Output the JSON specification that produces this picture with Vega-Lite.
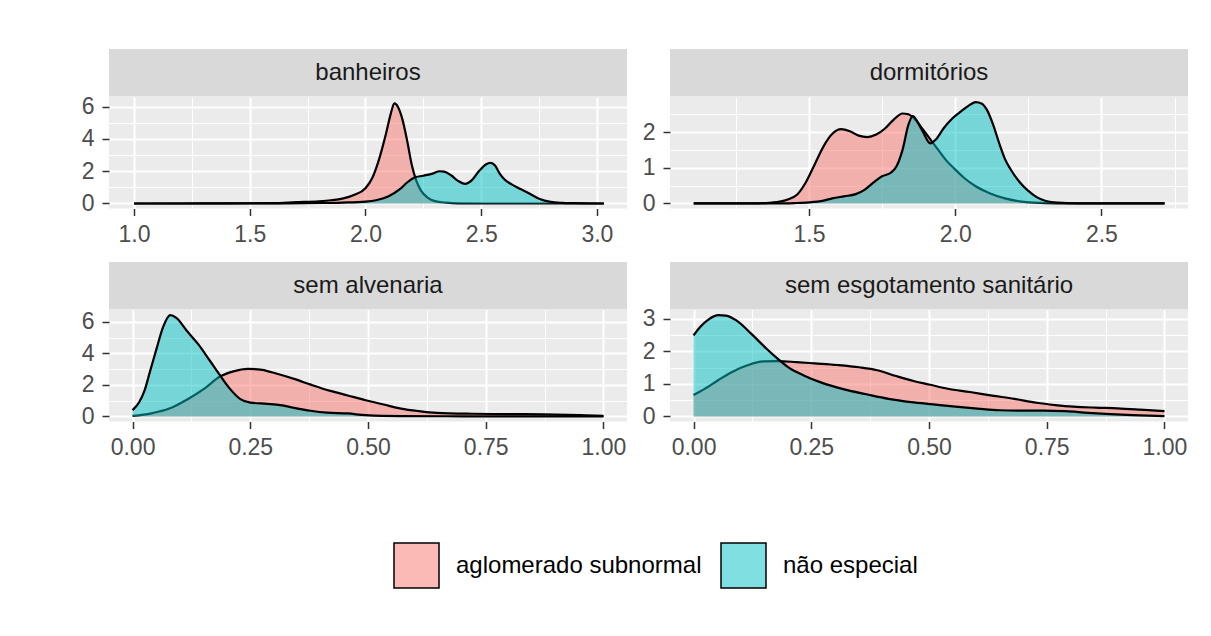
{
 "$schema": "https://vega.github.io/schema/vega-lite/v6.json",
 "padding": {"left": 81, "top": 49, "right": 5, "bottom": 5},
 "background": "white",
 "datasets": {"d": [
  {"v":"banheiros","g":"aglomerado subnormal","x":1.0,"y":0},
  {"v":"banheiros","g":"aglomerado subnormal","x":1.2,"y":0},
  {"v":"banheiros","g":"aglomerado subnormal","x":1.4,"y":0.01},
  {"v":"banheiros","g":"aglomerado subnormal","x":1.6,"y":0.02},
  {"v":"banheiros","g":"aglomerado subnormal","x":1.7,"y":0.08},
  {"v":"banheiros","g":"aglomerado subnormal","x":1.8,"y":0.14},
  {"v":"banheiros","g":"aglomerado subnormal","x":1.85,"y":0.2},
  {"v":"banheiros","g":"aglomerado subnormal","x":1.9,"y":0.3},
  {"v":"banheiros","g":"aglomerado subnormal","x":1.95,"y":0.52},
  {"v":"banheiros","g":"aglomerado subnormal","x":2.0,"y":0.95},
  {"v":"banheiros","g":"aglomerado subnormal","x":2.03,"y":1.6},
  {"v":"banheiros","g":"aglomerado subnormal","x":2.06,"y":2.8},
  {"v":"banheiros","g":"aglomerado subnormal","x":2.09,"y":4.4},
  {"v":"banheiros","g":"aglomerado subnormal","x":2.11,"y":5.6},
  {"v":"banheiros","g":"aglomerado subnormal","x":2.125,"y":6.2},
  {"v":"banheiros","g":"aglomerado subnormal","x":2.14,"y":6.0},
  {"v":"banheiros","g":"aglomerado subnormal","x":2.16,"y":5.2},
  {"v":"banheiros","g":"aglomerado subnormal","x":2.18,"y":3.9},
  {"v":"banheiros","g":"aglomerado subnormal","x":2.2,"y":2.4},
  {"v":"banheiros","g":"aglomerado subnormal","x":2.22,"y":1.4},
  {"v":"banheiros","g":"aglomerado subnormal","x":2.24,"y":0.8},
  {"v":"banheiros","g":"aglomerado subnormal","x":2.27,"y":0.35},
  {"v":"banheiros","g":"aglomerado subnormal","x":2.3,"y":0.15},
  {"v":"banheiros","g":"aglomerado subnormal","x":2.35,"y":0.05},
  {"v":"banheiros","g":"aglomerado subnormal","x":2.4,"y":0.01},
  {"v":"banheiros","g":"aglomerado subnormal","x":2.5,"y":0},
  {"v":"banheiros","g":"aglomerado subnormal","x":3.03,"y":0},
  {"v":"banheiros","g":"não especial","x":1.0,"y":0},
  {"v":"banheiros","g":"não especial","x":1.6,"y":0.01},
  {"v":"banheiros","g":"não especial","x":1.8,"y":0.03},
  {"v":"banheiros","g":"não especial","x":1.9,"y":0.06},
  {"v":"banheiros","g":"não especial","x":2.0,"y":0.12},
  {"v":"banheiros","g":"não especial","x":2.05,"y":0.22},
  {"v":"banheiros","g":"não especial","x":2.1,"y":0.45},
  {"v":"banheiros","g":"não especial","x":2.15,"y":0.9},
  {"v":"banheiros","g":"não especial","x":2.18,"y":1.3},
  {"v":"banheiros","g":"não especial","x":2.21,"y":1.6},
  {"v":"banheiros","g":"não especial","x":2.25,"y":1.72},
  {"v":"banheiros","g":"não especial","x":2.29,"y":1.85},
  {"v":"banheiros","g":"não especial","x":2.32,"y":2.0},
  {"v":"banheiros","g":"não especial","x":2.34,"y":1.98},
  {"v":"banheiros","g":"não especial","x":2.37,"y":1.75},
  {"v":"banheiros","g":"não especial","x":2.4,"y":1.4},
  {"v":"banheiros","g":"não especial","x":2.43,"y":1.22},
  {"v":"banheiros","g":"não especial","x":2.46,"y":1.45},
  {"v":"banheiros","g":"não especial","x":2.49,"y":2.0},
  {"v":"banheiros","g":"não especial","x":2.52,"y":2.42},
  {"v":"banheiros","g":"não especial","x":2.54,"y":2.52},
  {"v":"banheiros","g":"não especial","x":2.56,"y":2.35},
  {"v":"banheiros","g":"não especial","x":2.58,"y":1.85},
  {"v":"banheiros","g":"não especial","x":2.6,"y":1.5},
  {"v":"banheiros","g":"não especial","x":2.63,"y":1.2},
  {"v":"banheiros","g":"não especial","x":2.67,"y":0.9},
  {"v":"banheiros","g":"não especial","x":2.71,"y":0.6},
  {"v":"banheiros","g":"não especial","x":2.75,"y":0.3},
  {"v":"banheiros","g":"não especial","x":2.8,"y":0.1},
  {"v":"banheiros","g":"não especial","x":2.85,"y":0.04},
  {"v":"banheiros","g":"não especial","x":2.9,"y":0.02},
  {"v":"banheiros","g":"não especial","x":3.03,"y":0},

  {"v":"dormitórios","g":"aglomerado subnormal","x":1.106,"y":0},
  {"v":"dormitórios","g":"aglomerado subnormal","x":1.3,"y":0},
  {"v":"dormitórios","g":"aglomerado subnormal","x":1.35,"y":0.01},
  {"v":"dormitórios","g":"aglomerado subnormal","x":1.4,"y":0.05},
  {"v":"dormitórios","g":"aglomerado subnormal","x":1.43,"y":0.12},
  {"v":"dormitórios","g":"aglomerado subnormal","x":1.46,"y":0.25},
  {"v":"dormitórios","g":"aglomerado subnormal","x":1.49,"y":0.6},
  {"v":"dormitórios","g":"aglomerado subnormal","x":1.52,"y":1.1},
  {"v":"dormitórios","g":"aglomerado subnormal","x":1.55,"y":1.6},
  {"v":"dormitórios","g":"aglomerado subnormal","x":1.58,"y":1.95},
  {"v":"dormitórios","g":"aglomerado subnormal","x":1.61,"y":2.08},
  {"v":"dormitórios","g":"aglomerado subnormal","x":1.64,"y":2.02},
  {"v":"dormitórios","g":"aglomerado subnormal","x":1.67,"y":1.9},
  {"v":"dormitórios","g":"aglomerado subnormal","x":1.7,"y":1.86},
  {"v":"dormitórios","g":"aglomerado subnormal","x":1.73,"y":1.93},
  {"v":"dormitórios","g":"aglomerado subnormal","x":1.76,"y":2.1},
  {"v":"dormitórios","g":"aglomerado subnormal","x":1.79,"y":2.35},
  {"v":"dormitórios","g":"aglomerado subnormal","x":1.82,"y":2.52},
  {"v":"dormitórios","g":"aglomerado subnormal","x":1.84,"y":2.5},
  {"v":"dormitórios","g":"aglomerado subnormal","x":1.86,"y":2.38},
  {"v":"dormitórios","g":"aglomerado subnormal","x":1.88,"y":2.18},
  {"v":"dormitórios","g":"aglomerado subnormal","x":1.91,"y":1.85},
  {"v":"dormitórios","g":"aglomerado subnormal","x":1.94,"y":1.52},
  {"v":"dormitórios","g":"aglomerado subnormal","x":1.97,"y":1.2},
  {"v":"dormitórios","g":"aglomerado subnormal","x":2.0,"y":0.95},
  {"v":"dormitórios","g":"aglomerado subnormal","x":2.03,"y":0.72},
  {"v":"dormitórios","g":"aglomerado subnormal","x":2.07,"y":0.48},
  {"v":"dormitórios","g":"aglomerado subnormal","x":2.12,"y":0.28},
  {"v":"dormitórios","g":"aglomerado subnormal","x":2.17,"y":0.14},
  {"v":"dormitórios","g":"aglomerado subnormal","x":2.22,"y":0.06},
  {"v":"dormitórios","g":"aglomerado subnormal","x":2.27,"y":0.02},
  {"v":"dormitórios","g":"aglomerado subnormal","x":2.35,"y":0},
  {"v":"dormitórios","g":"aglomerado subnormal","x":2.716,"y":0},
  {"v":"dormitórios","g":"não especial","x":1.106,"y":0},
  {"v":"dormitórios","g":"não especial","x":1.4,"y":0},
  {"v":"dormitórios","g":"não especial","x":1.45,"y":0.01},
  {"v":"dormitórios","g":"não especial","x":1.5,"y":0.03},
  {"v":"dormitórios","g":"não especial","x":1.55,"y":0.08},
  {"v":"dormitórios","g":"não especial","x":1.58,"y":0.14},
  {"v":"dormitórios","g":"não especial","x":1.62,"y":0.2},
  {"v":"dormitórios","g":"não especial","x":1.66,"y":0.26},
  {"v":"dormitórios","g":"não especial","x":1.69,"y":0.38},
  {"v":"dormitórios","g":"não especial","x":1.72,"y":0.58},
  {"v":"dormitórios","g":"não especial","x":1.75,"y":0.76},
  {"v":"dormitórios","g":"não especial","x":1.78,"y":0.86},
  {"v":"dormitórios","g":"não especial","x":1.8,"y":1.05},
  {"v":"dormitórios","g":"não especial","x":1.82,"y":1.5},
  {"v":"dormitórios","g":"não especial","x":1.84,"y":2.2},
  {"v":"dormitórios","g":"não especial","x":1.855,"y":2.45},
  {"v":"dormitórios","g":"não especial","x":1.87,"y":2.3},
  {"v":"dormitórios","g":"não especial","x":1.89,"y":2.0},
  {"v":"dormitórios","g":"não especial","x":1.915,"y":1.68},
  {"v":"dormitórios","g":"não especial","x":1.935,"y":1.8},
  {"v":"dormitórios","g":"não especial","x":1.96,"y":2.1},
  {"v":"dormitórios","g":"não especial","x":1.99,"y":2.38},
  {"v":"dormitórios","g":"não especial","x":2.02,"y":2.58},
  {"v":"dormitórios","g":"não especial","x":2.05,"y":2.76},
  {"v":"dormitórios","g":"não especial","x":2.07,"y":2.84},
  {"v":"dormitórios","g":"não especial","x":2.09,"y":2.8},
  {"v":"dormitórios","g":"não especial","x":2.11,"y":2.6},
  {"v":"dormitórios","g":"não especial","x":2.13,"y":2.2},
  {"v":"dormitórios","g":"não especial","x":2.15,"y":1.7},
  {"v":"dormitórios","g":"não especial","x":2.17,"y":1.25},
  {"v":"dormitórios","g":"não especial","x":2.19,"y":0.95},
  {"v":"dormitórios","g":"não especial","x":2.22,"y":0.6},
  {"v":"dormitórios","g":"não especial","x":2.25,"y":0.35},
  {"v":"dormitórios","g":"não especial","x":2.28,"y":0.17},
  {"v":"dormitórios","g":"não especial","x":2.31,"y":0.07},
  {"v":"dormitórios","g":"não especial","x":2.35,"y":0.02},
  {"v":"dormitórios","g":"não especial","x":2.42,"y":0},
  {"v":"dormitórios","g":"não especial","x":2.716,"y":0},

  {"v":"sem alvenaria","g":"aglomerado subnormal","x":0,"y":0.04},
  {"v":"sem alvenaria","g":"aglomerado subnormal","x":0.04,"y":0.2},
  {"v":"sem alvenaria","g":"aglomerado subnormal","x":0.078,"y":0.5},
  {"v":"sem alvenaria","g":"aglomerado subnormal","x":0.116,"y":1.08},
  {"v":"sem alvenaria","g":"aglomerado subnormal","x":0.154,"y":1.8},
  {"v":"sem alvenaria","g":"aglomerado subnormal","x":0.184,"y":2.5},
  {"v":"sem alvenaria","g":"aglomerado subnormal","x":0.214,"y":2.86},
  {"v":"sem alvenaria","g":"aglomerado subnormal","x":0.245,"y":3.02},
  {"v":"sem alvenaria","g":"aglomerado subnormal","x":0.275,"y":2.95},
  {"v":"sem alvenaria","g":"aglomerado subnormal","x":0.305,"y":2.72},
  {"v":"sem alvenaria","g":"aglomerado subnormal","x":0.343,"y":2.38},
  {"v":"sem alvenaria","g":"aglomerado subnormal","x":0.38,"y":2.0},
  {"v":"sem alvenaria","g":"aglomerado subnormal","x":0.42,"y":1.62},
  {"v":"sem alvenaria","g":"aglomerado subnormal","x":0.457,"y":1.33},
  {"v":"sem alvenaria","g":"aglomerado subnormal","x":0.495,"y":1.03},
  {"v":"sem alvenaria","g":"aglomerado subnormal","x":0.533,"y":0.76},
  {"v":"sem alvenaria","g":"aglomerado subnormal","x":0.57,"y":0.5},
  {"v":"sem alvenaria","g":"aglomerado subnormal","x":0.608,"y":0.34},
  {"v":"sem alvenaria","g":"aglomerado subnormal","x":0.646,"y":0.23},
  {"v":"sem alvenaria","g":"aglomerado subnormal","x":0.72,"y":0.17},
  {"v":"sem alvenaria","g":"aglomerado subnormal","x":0.8,"y":0.15},
  {"v":"sem alvenaria","g":"aglomerado subnormal","x":0.873,"y":0.13},
  {"v":"sem alvenaria","g":"aglomerado subnormal","x":0.95,"y":0.08},
  {"v":"sem alvenaria","g":"aglomerado subnormal","x":1.0,"y":0.04},
  {"v":"sem alvenaria","g":"não especial","x":0,"y":0.4},
  {"v":"sem alvenaria","g":"não especial","x":0.014,"y":0.9},
  {"v":"sem alvenaria","g":"não especial","x":0.025,"y":1.6},
  {"v":"sem alvenaria","g":"não especial","x":0.037,"y":2.84},
  {"v":"sem alvenaria","g":"não especial","x":0.051,"y":4.3},
  {"v":"sem alvenaria","g":"não especial","x":0.065,"y":5.68},
  {"v":"sem alvenaria","g":"não especial","x":0.08,"y":6.42},
  {"v":"sem alvenaria","g":"não especial","x":0.093,"y":6.25},
  {"v":"sem alvenaria","g":"não especial","x":0.116,"y":5.4},
  {"v":"sem alvenaria","g":"não especial","x":0.139,"y":4.6},
  {"v":"sem alvenaria","g":"não especial","x":0.165,"y":3.5},
  {"v":"sem alvenaria","g":"não especial","x":0.186,"y":2.6},
  {"v":"sem alvenaria","g":"não especial","x":0.207,"y":1.75},
  {"v":"sem alvenaria","g":"não especial","x":0.229,"y":1.1},
  {"v":"sem alvenaria","g":"não especial","x":0.25,"y":0.88},
  {"v":"sem alvenaria","g":"não especial","x":0.286,"y":0.8},
  {"v":"sem alvenaria","g":"não especial","x":0.314,"y":0.72},
  {"v":"sem alvenaria","g":"não especial","x":0.342,"y":0.55},
  {"v":"sem alvenaria","g":"não especial","x":0.378,"y":0.36},
  {"v":"sem alvenaria","g":"não especial","x":0.413,"y":0.24},
  {"v":"sem alvenaria","g":"não especial","x":0.457,"y":0.19},
  {"v":"sem alvenaria","g":"não especial","x":0.495,"y":0.08},
  {"v":"sem alvenaria","g":"não especial","x":0.57,"y":0.02},
  {"v":"sem alvenaria","g":"não especial","x":0.7,"y":0.01},
  {"v":"sem alvenaria","g":"não especial","x":1.0,"y":0},

  {"v":"sem esgotamento sanitário","g":"aglomerado subnormal","x":0,"y":0.66},
  {"v":"sem esgotamento sanitário","g":"aglomerado subnormal","x":0.022,"y":0.83},
  {"v":"sem esgotamento sanitário","g":"aglomerado subnormal","x":0.053,"y":1.12},
  {"v":"sem esgotamento sanitário","g":"aglomerado subnormal","x":0.085,"y":1.39},
  {"v":"sem esgotamento sanitário","g":"aglomerado subnormal","x":0.116,"y":1.58},
  {"v":"sem esgotamento sanitário","g":"aglomerado subnormal","x":0.148,"y":1.69},
  {"v":"sem esgotamento sanitário","g":"aglomerado subnormal","x":0.179,"y":1.7},
  {"v":"sem esgotamento sanitário","g":"aglomerado subnormal","x":0.218,"y":1.67},
  {"v":"sem esgotamento sanitário","g":"aglomerado subnormal","x":0.257,"y":1.63},
  {"v":"sem esgotamento sanitário","g":"aglomerado subnormal","x":0.305,"y":1.58},
  {"v":"sem esgotamento sanitário","g":"aglomerado subnormal","x":0.352,"y":1.51},
  {"v":"sem esgotamento sanitário","g":"aglomerado subnormal","x":0.39,"y":1.42},
  {"v":"sem esgotamento sanitário","g":"aglomerado subnormal","x":0.43,"y":1.24},
  {"v":"sem esgotamento sanitário","g":"aglomerado subnormal","x":0.469,"y":1.08},
  {"v":"sem esgotamento sanitário","g":"aglomerado subnormal","x":0.5,"y":0.98},
  {"v":"sem esgotamento sanitário","g":"aglomerado subnormal","x":0.54,"y":0.85},
  {"v":"sem esgotamento sanitário","g":"aglomerado subnormal","x":0.587,"y":0.75},
  {"v":"sem esgotamento sanitário","g":"aglomerado subnormal","x":0.634,"y":0.64},
  {"v":"sem esgotamento sanitário","g":"aglomerado subnormal","x":0.681,"y":0.54},
  {"v":"sem esgotamento sanitário","g":"aglomerado subnormal","x":0.728,"y":0.42},
  {"v":"sem esgotamento sanitário","g":"aglomerado subnormal","x":0.768,"y":0.35},
  {"v":"sem esgotamento sanitário","g":"aglomerado subnormal","x":0.807,"y":0.3},
  {"v":"sem esgotamento sanitário","g":"aglomerado subnormal","x":0.854,"y":0.27},
  {"v":"sem esgotamento sanitário","g":"aglomerado subnormal","x":0.9,"y":0.25},
  {"v":"sem esgotamento sanitário","g":"aglomerado subnormal","x":0.948,"y":0.21},
  {"v":"sem esgotamento sanitário","g":"aglomerado subnormal","x":1.0,"y":0.16},
  {"v":"sem esgotamento sanitário","g":"não especial","x":0,"y":2.49},
  {"v":"sem esgotamento sanitário","g":"não especial","x":0.014,"y":2.75},
  {"v":"sem esgotamento sanitário","g":"não especial","x":0.03,"y":2.96},
  {"v":"sem esgotamento sanitário","g":"não especial","x":0.053,"y":3.11},
  {"v":"sem esgotamento sanitário","g":"não especial","x":0.069,"y":3.1},
  {"v":"sem esgotamento sanitário","g":"não especial","x":0.093,"y":2.93},
  {"v":"sem esgotamento sanitário","g":"não especial","x":0.124,"y":2.52},
  {"v":"sem esgotamento sanitário","g":"não especial","x":0.155,"y":2.08},
  {"v":"sem esgotamento sanitário","g":"não especial","x":0.179,"y":1.77},
  {"v":"sem esgotamento sanitário","g":"não especial","x":0.203,"y":1.49},
  {"v":"sem esgotamento sanitário","g":"não especial","x":0.234,"y":1.26},
  {"v":"sem esgotamento sanitário","g":"não especial","x":0.273,"y":1.03},
  {"v":"sem esgotamento sanitário","g":"não especial","x":0.32,"y":0.83},
  {"v":"sem esgotamento sanitário","g":"não especial","x":0.367,"y":0.68},
  {"v":"sem esgotamento sanitário","g":"não especial","x":0.414,"y":0.54},
  {"v":"sem esgotamento sanitário","g":"não especial","x":0.462,"y":0.44},
  {"v":"sem esgotamento sanitário","g":"não especial","x":0.509,"y":0.37},
  {"v":"sem esgotamento sanitário","g":"não especial","x":0.556,"y":0.3},
  {"v":"sem esgotamento sanitário","g":"não especial","x":0.603,"y":0.24},
  {"v":"sem esgotamento sanitário","g":"não especial","x":0.65,"y":0.19},
  {"v":"sem esgotamento sanitário","g":"não especial","x":0.697,"y":0.18},
  {"v":"sem esgotamento sanitário","g":"não especial","x":0.744,"y":0.18},
  {"v":"sem esgotamento sanitário","g":"não especial","x":0.79,"y":0.16},
  {"v":"sem esgotamento sanitário","g":"não especial","x":0.838,"y":0.11},
  {"v":"sem esgotamento sanitário","g":"não especial","x":0.885,"y":0.07},
  {"v":"sem esgotamento sanitário","g":"não especial","x":0.932,"y":0.04},
  {"v":"sem esgotamento sanitário","g":"não especial","x":1.0,"y":0.01}
 ]},
 "vconcat": [
  {"hconcat": [
   {"vconcat": [
     {"data": {"values": [{"label": "banheiros"}]}, "width": 518, "height": 47.5,
      "view": {"fill": "#D9D9D9", "stroke": null},
      "mark": {"type": "text", "font": "Liberation Sans", "fontSize": 24, "color": "#1A1A1A", "baseline": "middle", "align": "center"},
      "encoding": {"text": {"field": "label"}}},
     {"data": {"name": "d"}, "transform": [{"filter": "datum.v == 'banheiros'"}],
      "width": 518, "height": 111.5, "view": {"fill": "#EBEBEB", "stroke": null},
      "encoding": {
        "x": {"field": "x", "type": "quantitative", "scale": {"domain": [0.892, 3.13], "nice": false, "zero": false},
              "axis": {"title": null, "values": [1, 1.25, 1.5, 1.75, 2, 2.25, 2.5, 2.75, 3],
                       "labelExpr": "abs(datum.value*2 - round(datum.value*2)) < 1e-6 ? format(datum.value, '.1f') : ''",
                       "tickOpacity": {"condition": {"test": "abs(datum.value*2 - round(datum.value*2)) < 1e-6", "value": 1}, "value": 0},
                       "gridWidth": {"condition": {"test": "abs(datum.value*2 - round(datum.value*2)) < 1e-6", "value": 2}, "value": 1}}},
        "y": {"field": "y", "type": "quantitative", "scale": {"domain": [-0.31, 6.6], "nice": false, "zero": false},
              "axis": {"title": null, "values": [0, 1, 2, 3, 4, 5, 6],
                       "labelExpr": "datum.value % 2 == 0 ? format(datum.value, 'd') : ''",
                       "tickOpacity": {"condition": {"test": "datum.value % 2 == 0", "value": 1}, "value": 0},
                       "gridWidth": {"condition": {"test": "datum.value % 2 == 0", "value": 2}, "value": 1}}}
      },
      "layer": [
        {"transform": [{"filter": "datum.g == 'aglomerado subnormal'"}], "mark": {"type": "area", "fillOpacity": 0.5, "interpolate": "monotone"},
         "encoding": {"color": {"field": "g", "type": "nominal", "scale": {"domain": ["aglomerado subnormal", "não especial"], "range": ["#F8766D", "#00BFC4"]}, "legend": {"title": null, "encode": {"symbols": {"update": {"fillOpacity": {"value": 0.5}, "stroke": {"value": "black"}, "strokeWidth": {"value": 1.5}, "opacity": {"value": 1}}}}}}}},
        {"transform": [{"filter": "datum.g == 'aglomerado subnormal'"}], "mark": {"type": "line", "color": "black", "strokeWidth": 2.2, "interpolate": "monotone"}, "encoding": {"detail": {"field": "g"}}},
        {"transform": [{"filter": "datum.g == 'não especial'"}], "mark": {"type": "area", "fillOpacity": 0.5, "interpolate": "monotone"},
         "encoding": {"color": {"field": "g", "type": "nominal", "scale": {"domain": ["aglomerado subnormal", "não especial"], "range": ["#F8766D", "#00BFC4"]}, "legend": {"title": null, "encode": {"symbols": {"update": {"fillOpacity": {"value": 0.5}, "stroke": {"value": "black"}, "strokeWidth": {"value": 1.5}, "opacity": {"value": 1}}}}}}}},
        {"transform": [{"filter": "datum.g == 'não especial'"}], "mark": {"type": "line", "color": "black", "strokeWidth": 2.2, "interpolate": "monotone"}, "encoding": {"detail": {"field": "g"}}}
      ]}
   ], "spacing": 0, "bounds": "flush", "resolve": {"scale": {"x": "independent", "y": "independent"}}},
   {"vconcat": [
     {"data": {"values": [{"label": "dormitórios"}]}, "width": 518, "height": 47.5,
      "view": {"fill": "#D9D9D9", "stroke": null},
      "mark": {"type": "text", "font": "Liberation Sans", "fontSize": 24, "color": "#1A1A1A", "baseline": "middle", "align": "center"},
      "encoding": {"text": {"field": "label"}}},
     {"data": {"name": "d"}, "transform": [{"filter": "datum.v == 'dormitórios'"}],
      "width": 518, "height": 111.5, "view": {"fill": "#EBEBEB", "stroke": null},
      "encoding": {
        "x": {"field": "x", "type": "quantitative", "scale": {"domain": [1.025, 2.796], "nice": false, "zero": false},
              "axis": {"title": null, "values": [1.25, 1.5, 1.75, 2, 2.25, 2.5, 2.75],
                       "labelExpr": "abs(datum.value*2 - round(datum.value*2)) < 1e-6 ? format(datum.value, '.1f') : ''",
                       "tickOpacity": {"condition": {"test": "abs(datum.value*2 - round(datum.value*2)) < 1e-6", "value": 1}, "value": 0},
                       "gridWidth": {"condition": {"test": "abs(datum.value*2 - round(datum.value*2)) < 1e-6", "value": 2}, "value": 1}}},
        "y": {"field": "y", "type": "quantitative", "scale": {"domain": [-0.142, 2.982], "nice": false, "zero": false},
              "axis": {"title": null, "values": [0, 0.5, 1, 1.5, 2, 2.5],
                       "labelExpr": "datum.value == round(datum.value) ? format(datum.value, 'd') : ''",
                       "tickOpacity": {"condition": {"test": "datum.value == round(datum.value)", "value": 1}, "value": 0},
                       "gridWidth": {"condition": {"test": "datum.value == round(datum.value)", "value": 2}, "value": 1}}}
      },
      "layer": [
        {"transform": [{"filter": "datum.g == 'aglomerado subnormal'"}], "mark": {"type": "area", "fillOpacity": 0.5, "interpolate": "monotone"},
         "encoding": {"color": {"field": "g", "type": "nominal", "scale": {"domain": ["aglomerado subnormal", "não especial"], "range": ["#F8766D", "#00BFC4"]}, "legend": {"title": null, "encode": {"symbols": {"update": {"fillOpacity": {"value": 0.5}, "stroke": {"value": "black"}, "strokeWidth": {"value": 1.5}, "opacity": {"value": 1}}}}}}}},
        {"transform": [{"filter": "datum.g == 'aglomerado subnormal'"}], "mark": {"type": "line", "color": "black", "strokeWidth": 2.2, "interpolate": "monotone"}, "encoding": {"detail": {"field": "g"}}},
        {"transform": [{"filter": "datum.g == 'não especial'"}], "mark": {"type": "area", "fillOpacity": 0.5, "interpolate": "monotone"},
         "encoding": {"color": {"field": "g", "type": "nominal", "scale": {"domain": ["aglomerado subnormal", "não especial"], "range": ["#F8766D", "#00BFC4"]}, "legend": {"title": null, "encode": {"symbols": {"update": {"fillOpacity": {"value": 0.5}, "stroke": {"value": "black"}, "strokeWidth": {"value": 1.5}, "opacity": {"value": 1}}}}}}}},
        {"transform": [{"filter": "datum.g == 'não especial'"}], "mark": {"type": "line", "color": "black", "strokeWidth": 2.2, "interpolate": "monotone"}, "encoding": {"detail": {"field": "g"}}}
      ]}
   ], "spacing": 0, "bounds": "flush", "resolve": {"scale": {"x": "independent", "y": "independent"}}}
  ], "spacing": 15, "resolve": {"scale": {"x": "independent", "y": "independent"}}},
  {"hconcat": [
   {"vconcat": [
     {"data": {"values": [{"label": "sem alvenaria"}]}, "width": 518, "height": 47.5,
      "view": {"fill": "#D9D9D9", "stroke": null},
      "mark": {"type": "text", "font": "Liberation Sans", "fontSize": 24, "color": "#1A1A1A", "baseline": "middle", "align": "center"},
      "encoding": {"text": {"field": "label"}}},
     {"data": {"name": "d"}, "transform": [{"filter": "datum.v == 'sem alvenaria'"}],
      "width": 518, "height": 111.5, "view": {"fill": "#EBEBEB", "stroke": null},
      "encoding": {
        "x": {"field": "x", "type": "quantitative", "scale": {"domain": [-0.05, 1.05], "nice": false, "zero": false},
              "axis": {"title": null, "values": [0, 0.125, 0.25, 0.375, 0.5, 0.625, 0.75, 0.875, 1],
                       "labelExpr": "abs(datum.value*4 - round(datum.value*4)) < 1e-6 ? format(datum.value, '.2f') : ''",
                       "tickOpacity": {"condition": {"test": "abs(datum.value*4 - round(datum.value*4)) < 1e-6", "value": 1}, "value": 0},
                       "gridWidth": {"condition": {"test": "abs(datum.value*4 - round(datum.value*4)) < 1e-6", "value": 2}, "value": 1}}},
        "y": {"field": "y", "type": "quantitative", "scale": {"domain": [-0.32, 6.75], "nice": false, "zero": false},
              "axis": {"title": null, "values": [0, 1, 2, 3, 4, 5, 6],
                       "labelExpr": "datum.value % 2 == 0 ? format(datum.value, 'd') : ''",
                       "tickOpacity": {"condition": {"test": "datum.value % 2 == 0", "value": 1}, "value": 0},
                       "gridWidth": {"condition": {"test": "datum.value % 2 == 0", "value": 2}, "value": 1}}}
      },
      "layer": [
        {"transform": [{"filter": "datum.g == 'aglomerado subnormal'"}], "mark": {"type": "area", "fillOpacity": 0.5, "interpolate": "monotone"},
         "encoding": {"color": {"field": "g", "type": "nominal", "scale": {"domain": ["aglomerado subnormal", "não especial"], "range": ["#F8766D", "#00BFC4"]}, "legend": {"title": null, "encode": {"symbols": {"update": {"fillOpacity": {"value": 0.5}, "stroke": {"value": "black"}, "strokeWidth": {"value": 1.5}, "opacity": {"value": 1}}}}}}}},
        {"transform": [{"filter": "datum.g == 'aglomerado subnormal'"}], "mark": {"type": "line", "color": "black", "strokeWidth": 2.2, "interpolate": "monotone"}, "encoding": {"detail": {"field": "g"}}},
        {"transform": [{"filter": "datum.g == 'não especial'"}], "mark": {"type": "area", "fillOpacity": 0.5, "interpolate": "monotone"},
         "encoding": {"color": {"field": "g", "type": "nominal", "scale": {"domain": ["aglomerado subnormal", "não especial"], "range": ["#F8766D", "#00BFC4"]}, "legend": {"title": null, "encode": {"symbols": {"update": {"fillOpacity": {"value": 0.5}, "stroke": {"value": "black"}, "strokeWidth": {"value": 1.5}, "opacity": {"value": 1}}}}}}}},
        {"transform": [{"filter": "datum.g == 'não especial'"}], "mark": {"type": "line", "color": "black", "strokeWidth": 2.2, "interpolate": "monotone"}, "encoding": {"detail": {"field": "g"}}}
      ]}
   ], "spacing": 0, "bounds": "flush", "resolve": {"scale": {"x": "independent", "y": "independent"}}},
   {"vconcat": [
     {"data": {"values": [{"label": "sem esgotamento sanitário"}]}, "width": 518, "height": 47.5,
      "view": {"fill": "#D9D9D9", "stroke": null},
      "mark": {"type": "text", "font": "Liberation Sans", "fontSize": 24, "color": "#1A1A1A", "baseline": "middle", "align": "center"},
      "encoding": {"text": {"field": "label"}}},
     {"data": {"name": "d"}, "transform": [{"filter": "datum.v == 'sem esgotamento sanitário'"}],
      "width": 518, "height": 111.5, "view": {"fill": "#EBEBEB", "stroke": null},
      "encoding": {
        "x": {"field": "x", "type": "quantitative", "scale": {"domain": [-0.05, 1.05], "nice": false, "zero": false},
              "axis": {"title": null, "values": [0, 0.125, 0.25, 0.375, 0.5, 0.625, 0.75, 0.875, 1],
                       "labelExpr": "abs(datum.value*4 - round(datum.value*4)) < 1e-6 ? format(datum.value, '.2f') : ''",
                       "tickOpacity": {"condition": {"test": "abs(datum.value*4 - round(datum.value*4)) < 1e-6", "value": 1}, "value": 0},
                       "gridWidth": {"condition": {"test": "abs(datum.value*4 - round(datum.value*4)) < 1e-6", "value": 2}, "value": 1}}},
        "y": {"field": "y", "type": "quantitative", "scale": {"domain": [-0.156, 3.27], "nice": false, "zero": false},
              "axis": {"title": null, "values": [0, 0.5, 1, 1.5, 2, 2.5, 3],
                       "labelExpr": "datum.value == round(datum.value) ? format(datum.value, 'd') : ''",
                       "tickOpacity": {"condition": {"test": "datum.value == round(datum.value)", "value": 1}, "value": 0},
                       "gridWidth": {"condition": {"test": "datum.value == round(datum.value)", "value": 2}, "value": 1}}}
      },
      "layer": [
        {"transform": [{"filter": "datum.g == 'aglomerado subnormal'"}], "mark": {"type": "area", "fillOpacity": 0.5, "interpolate": "monotone"},
         "encoding": {"color": {"field": "g", "type": "nominal", "scale": {"domain": ["aglomerado subnormal", "não especial"], "range": ["#F8766D", "#00BFC4"]}, "legend": {"title": null, "encode": {"symbols": {"update": {"fillOpacity": {"value": 0.5}, "stroke": {"value": "black"}, "strokeWidth": {"value": 1.5}, "opacity": {"value": 1}}}}}}}},
        {"transform": [{"filter": "datum.g == 'aglomerado subnormal'"}], "mark": {"type": "line", "color": "black", "strokeWidth": 2.2, "interpolate": "monotone"}, "encoding": {"detail": {"field": "g"}}},
        {"transform": [{"filter": "datum.g == 'não especial'"}], "mark": {"type": "area", "fillOpacity": 0.5, "interpolate": "monotone"},
         "encoding": {"color": {"field": "g", "type": "nominal", "scale": {"domain": ["aglomerado subnormal", "não especial"], "range": ["#F8766D", "#00BFC4"]}, "legend": {"title": null, "encode": {"symbols": {"update": {"fillOpacity": {"value": 0.5}, "stroke": {"value": "black"}, "strokeWidth": {"value": 1.5}, "opacity": {"value": 1}}}}}}}},
        {"transform": [{"filter": "datum.g == 'não especial'"}], "mark": {"type": "line", "color": "black", "strokeWidth": 2.2, "interpolate": "monotone"}, "encoding": {"detail": {"field": "g"}}}
      ]}
   ], "spacing": 0, "bounds": "flush", "resolve": {"scale": {"x": "independent", "y": "independent"}}}
  ], "spacing": 15, "resolve": {"scale": {"x": "independent", "y": "independent"}}}
 ],
 "spacing": 15,
 "resolve": {"scale": {"x": "independent", "y": "independent"}},
 "config": {
  "font": "Liberation Sans",
  "view": {"stroke": null},
  "axis": {"domain": false, "gridColor": "white", "tickColor": "#333333", "tickWidth": 1.5, "tickSize": 7,
           "labelPadding": 8, "labelColor": "#4D4D4D", "labelFontSize": 23, "labelFont": "Liberation Sans",
           "labelFlush": false, "labelOverlap": false},
  "legend": {"orient": "none", "legendX": 284, "legendY": 493, "direction": "horizontal",
             "symbolType": "square", "symbolSize": 2025, "symbolStrokeColor": "black", "symbolStrokeWidth": 1.5,
             "symbolOpacity": 1, "labelFont": "Liberation Sans", "labelFontSize": 24, "labelColor": "black",
             "labelOffset": 16, "columnPadding": 16, "labelLimit": 500}
 }
}
